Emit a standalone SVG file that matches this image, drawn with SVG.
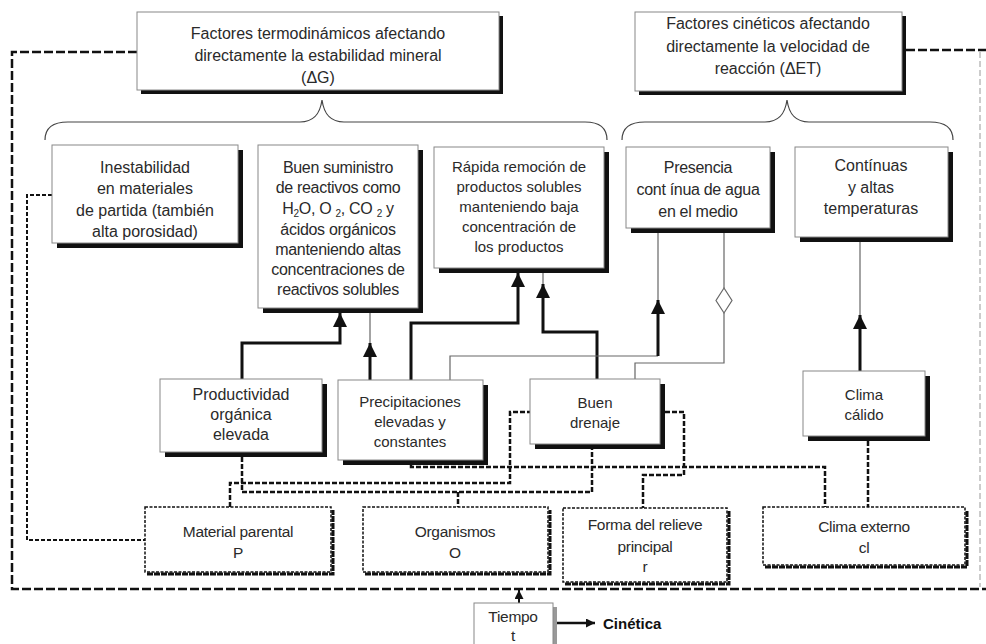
<svg xmlns="http://www.w3.org/2000/svg" width="986" height="644" viewBox="0 0 986 644">
<defs>
<marker id="ah" markerUnits="userSpaceOnUse" markerWidth="14" markerHeight="14" viewBox="0 0 12 12" refX="12" refY="6" orient="auto">
<path d="M0,0 L12,6 L0,12 z" fill="#111"/>
</marker>
<marker id="ahs" markerUnits="userSpaceOnUse" markerWidth="9" markerHeight="9" viewBox="0 0 12 12" refX="12" refY="6" orient="auto">
<path d="M0,0 L12,6 L0,12 z" fill="#111"/>
</marker>
</defs>
<style>
text{font-family:"Liberation Sans",Arial,sans-serif;fill:#2a2a2a;text-anchor:middle}
.t16{font-size:16px}
.t15{font-size:15px}
.t14{font-size:15.5px;letter-spacing:-0.3px}
.cond{font-size:16px;letter-spacing:-0.3px}
.box{fill:#fff;stroke:#888;stroke-width:1}
.shd{fill:#111}
.dbox{fill:#fff;stroke:#111;stroke-width:1.5;stroke-dasharray:3 1.5}
.dshd{fill:none;stroke:#111;stroke-width:3;stroke-dasharray:6 1}
.thick{fill:none;stroke:#111;stroke-width:3}
.thin{fill:none;stroke:#666;stroke-width:1.2}
.dash{fill:none;stroke:#111;stroke-width:2.5;stroke-dasharray:5 2}
.dot{fill:none;stroke:#111;stroke-width:2;stroke-dasharray:4 2}
.frame{fill:none;stroke:#111;stroke-width:2.5;stroke-dasharray:9 3}
.brace{fill:none;stroke:#444;stroke-width:1.2}
</style>
<rect width="986" height="644" fill="#fff"/>

<g id="connectors">
<path class="frame" d="M137,52 H12 V589 H986"/>
<path class="frame" d="M906,50 H986"/>
<path d="M980,52 V587" fill="none" stroke="#ccc" stroke-width="2" stroke-dasharray="6 3"/>
<path class="brace" d="M45,140 C45,128 52,122 68,122 H300 C314,122 320,114 322,100 C324,114 330,122 344,122 H585 C600,122 607,128 607,140"/>
<path class="brace" d="M622,140 C622,128 629,122 645,122 H765 C779,122 785,114 787,100 C789,114 795,122 809,122 H930 C946,122 953,128 953,140"/>
<path class="thick" d="M242,379 V343 H340 V313" marker-end="url(#ah)"/>
<path class="thin" d="M370,343 V313"/>
<path class="thick" d="M370,380 V343" marker-end="url(#ah)"/>
<path class="thick" d="M411,380 V323 H518 V273" marker-end="url(#ah)"/>
<path class="thin" d="M543,284 V273"/>
<path class="thick" d="M597,379 V332 H543 V284" marker-end="url(#ah)"/>
<path class="thin" d="M450,380 V356 H658"/>
<path class="thick" d="M658,356 V300" marker-end="url(#ah)"/>
<path class="thin" d="M658,300 V233"/>
<path class="thin" d="M635,379 V363 H724 V313"/>
<polygon points="724,288 732,300.5 724,313 716,300.5" fill="#fff" stroke="#666" stroke-width="1.2"/>
<path class="thin" d="M724,288 V233"/>
<path class="thin" d="M860,315 V242"/>
<path class="thick" d="M860,371 V315" marker-end="url(#ah)"/>
<path class="dot" d="M52,195 H27 V540 H145"/>
<path class="dash" d="M230,507 V483 H510 V412 H530"/>
<path class="dash" d="M242,457 V492 H592 V449"/>
<path class="dash" d="M458,492 V507"/>
<path class="dash" d="M411,465 V467 H825 V507"/>
<path class="dash" d="M665,412 H684 V475 H643 V508"/>
<path class="dash" d="M868,441 V507"/>
<path d="M519,603 V590" fill="none" stroke="#111" stroke-width="2" marker-end="url(#ahs)"/>
<path d="M557,623 H595" fill="none" stroke="#111" stroke-width="2.5" marker-end="url(#ahs)"/>
</g>

<g id="termo">
<rect class="shd" x="141" y="16" width="362" height="78"/>
<rect class="box" x="137" y="12" width="362" height="78"/>
<text class="t16" x="318" y="39">Factores termodinámicos afectando</text>
<text class="t16" x="318" y="61">directamente la estabilidad mineral</text>
<text class="t16" x="318" y="83">(ΔG)</text>
</g>
<g id="cinet">
<rect class="shd" x="639" y="16" width="267" height="79"/>
<rect class="box" x="635" y="12" width="267" height="79"/>
<text class="t16" x="768" y="29">Factores cinéticos afectando</text>
<text class="t16" x="768" y="52">directamente la velocidad de</text>
<text class="t16" x="768" y="74">reacción (ΔET)</text>
</g>

<g id="inestabilidad">
<rect class="shd" x="57" y="150" width="186" height="98"/>
<rect class="box" x="52" y="145" width="186" height="98"/>
<text class="t16" x="145" y="173">Inestabilidad</text>
<text class="t16" x="145" y="194">en materiales</text>
<text class="t16" x="145" y="216">de partida (también</text>
<text class="t16" x="145" y="237">alta porosidad)</text>
</g>
<g id="suministro">
<rect class="shd" x="263" y="150" width="160" height="163"/>
<rect class="box" x="258" y="145" width="160" height="163"/>
<text class="cond" x="338" y="173">Buen suministro</text>
<text class="cond" x="338" y="193">de reactivos como</text>
<text class="cond" x="338" y="214">H<tspan font-size="10" dy="3">2</tspan><tspan dy="-3">O, O </tspan><tspan font-size="10" dy="3">2</tspan><tspan dy="-3">, CO </tspan><tspan font-size="10" dy="3">2</tspan><tspan dy="-3"> y</tspan></text>
<text class="cond" x="338" y="235">ácidos  orgánicos</text>
<text class="cond" x="338" y="255">manteniendo altas</text>
<text class="cond" x="338" y="275">concentraciones de</text>
<text class="cond" x="338" y="295">reactivos solubles</text>
</g>
<g id="remocion">
<rect class="shd" x="439" y="152" width="170" height="121"/>
<rect class="box" x="434" y="147" width="170" height="121"/>
<text class="t15" x="519" y="172">Rápida remoción de</text>
<text class="t15" x="519" y="192">productos solubles</text>
<text class="t15" x="519" y="212">manteniendo baja</text>
<text class="t15" x="519" y="232">concentración de</text>
<text class="t15" x="519" y="252">los productos</text>
</g>
<g id="presencia">
<rect class="shd" x="631" y="152" width="144" height="81"/>
<rect class="box" x="626" y="147" width="144" height="81"/>
<text class="cond" x="698" y="173">Presencia</text>
<text class="cond" x="698" y="195">cont ínua de agua</text>
<text class="cond" x="698" y="217">en el medio</text>
</g>
<g id="continuas">
<rect class="shd" x="800" y="152" width="153" height="90"/>
<rect class="box" x="795" y="147" width="153" height="90"/>
<text class="t16" x="871" y="171">Contínuas</text>
<text class="t16" x="871" y="193">y altas</text>
<text class="t16" x="871" y="214">temperaturas</text>
</g>

<g id="productividad">
<rect class="shd" x="165" y="384" width="162" height="73"/>
<rect class="box" x="160" y="379" width="162" height="73"/>
<text class="t16" x="241" y="400">Productividad</text>
<text class="t16" x="241" y="420">orgánica</text>
<text class="t16" x="241" y="440">elevada</text>
</g>
<g id="precipitaciones">
<rect class="shd" x="343" y="385" width="145" height="80"/>
<rect class="box" x="338" y="380" width="145" height="80"/>
<text class="t15" x="410" y="407">Precipitaciones</text>
<text class="t15" x="410" y="427">elevadas y</text>
<text class="t15" x="410" y="447">constantes</text>
</g>
<g id="drenaje">
<rect class="shd" x="535" y="384" width="130" height="65"/>
<rect class="box" x="530" y="379" width="130" height="65"/>
<text class="t15" x="595" y="408">Buen</text>
<text class="t15" x="595" y="428">drenaje</text>
</g>
<g id="calido">
<rect class="shd" x="808" y="376" width="122" height="65"/>
<rect class="box" x="803" y="371" width="122" height="65"/>
<text class="t15" x="864" y="400">Clima</text>
<text class="t15" x="864" y="420">cálido</text>
</g>

<g id="material">
<path class="dshd" d="M147,574 H333 V510"/>
<rect class="dbox" x="145" y="507" width="186" height="65"/>
<text class="t14" x="238" y="537">Material  parental</text>
<text class="t14" x="238" y="558">P</text>
</g>
<g id="organismos">
<path class="dshd" d="M365,574 H550 V510"/>
<rect class="dbox" x="363" y="507" width="185" height="65"/>
<text class="t14" x="455" y="537">Organismos</text>
<text class="t14" x="455" y="558">O</text>
</g>
<g id="relieve">
<path class="dshd" d="M565,584 H729 V511"/>
<rect class="dbox" x="563" y="508" width="164" height="74"/>
<text class="t14" x="645" y="530">Forma del relieve</text>
<text class="t14" x="645" y="552">principal</text>
<text class="t14" x="645" y="572">r</text>
</g>
<g id="clima">
<path class="dshd" d="M765,567 H967 V510"/>
<rect class="dbox" x="763" y="507" width="202" height="58"/>
<text class="t14" x="864" y="532">Clima externo</text>
<text class="t14" x="864" y="553">cl</text>
</g>

<g id="tiempo">
<rect x="478" y="607" width="79" height="45" fill="#999"/>
<rect class="box" x="474" y="603" width="79" height="45"/>
<text class="t14" x="513" y="622">Tiempo</text>
<text class="t14" x="513" y="641">t</text>
</g>
<g id="cinetica">
<text x="603" y="629" style="font-size:15px;font-weight:bold;text-anchor:start;fill:#111">Cinética</text>
</g>
</svg>
